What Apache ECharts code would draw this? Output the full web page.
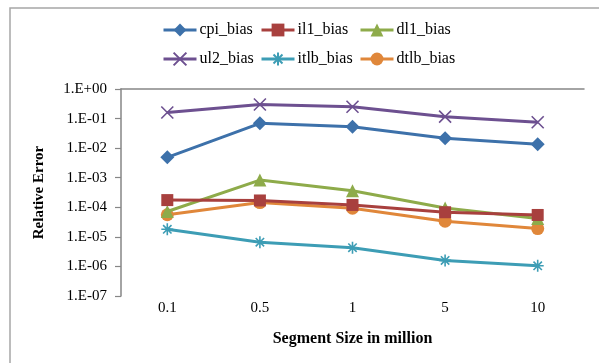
<!DOCTYPE html>
<html>
<head>
<meta charset="utf-8">
<script src="https://cdn.jsdelivr.net/npm/echarts@6/dist/echarts.min.js"></script>
<style>html,body{margin:0;padding:0;background:#fff}#c{width:599px;height:363px}</style>
</head>
<body>
<div id="c"></div>
<script>
const categories = ['0.1', '0.5', '1', '5', '10'];
const cpi_bias  = [0.0049, 0.069, 0.053, 0.0215, 0.0135];
const il1_bias  = [1.75e-4, 1.7e-4, 1.2e-4, 6.8e-5, 5.5e-5];
const dl1_bias  = [7.2e-5, 8.3e-4, 3.6e-4, 9.5e-5, 4.2e-5];
const ul2_bias  = [0.16, 0.30, 0.25, 0.116, 0.075];
const itlb_bias = [1.8e-5, 6.6e-6, 4.3e-6, 1.6e-6, 1.05e-6];
const dtlb_bias = [5.6e-5, 1.44e-4, 9.3e-5, 3.4e-5, 1.9e-5];
const seriesNames = ['cpi_bias', 'il1_bias', 'dl1_bias', 'ul2_bias', 'itlb_bias', 'dtlb_bias'];
const seriesData = [cpi_bias, il1_bias, dl1_bias, ul2_bias, itlb_bias, dtlb_bias];
const colors = ['#3D71AA', '#A8403E', '#8EAB4A', '#6D5090', '#3D9DB5', '#E0873A'];
const xPath = 'path://M0,0 L10,10 M10,0 L0,10';
const starPath = 'path://M5,0 L5,10 M0,5 L10,5 M1.5,1.5 L8.5,8.5 M8.5,1.5 L1.5,8.5';
const symbols = ['diamond', 'rect', 'triangle', xPath, starPath, 'circle'];
const symbolSizes = [14, 12, 13, 12, 12, 13];
const font = 'Liberation Serif';

const chart = echarts.init(document.getElementById('c'));
const series = seriesNames.map((n, i) => {
  const stroke = i === 3 || i === 4;
  return {
    name: n, type: 'line', data: seriesData[i],
    symbol: symbols[i], symbolSize: symbolSizes[i], showSymbol: true,
    lineStyle: { color: colors[i], width: 3 },
    itemStyle: stroke ? { color: colors[i], borderColor: colors[i], borderWidth: 1.6 } : { color: colors[i], borderWidth: 0 },
    emphasis: { disabled: true },
    animation: false, z: 10 - i
  };
});
const legendLefts = [162, 260, 359];
const legendTops = [22, 51];
const legends = seriesNames.map((n, i) => ({
  orient: 'horizontal', itemWidth: 33, itemHeight: 16, padding: 0,
  textStyle: { fontFamily: font, fontSize: 16, color: '#000', padding: [0, 0, 0, -2] },
  lineStyle: { width: 3 },
  left: legendLefts[i % 3], top: legendTops[Math.floor(i / 3)],
  data: [n], selectedMode: false
}));
chart.setOption({
  animation: false,
  color: colors,
  graphic: [{ type: 'rect', shape: { x: 10, y: 8, width: 800, height: 600 }, style: { fill: 'none', stroke: '#A6A6A6', lineWidth: 1.5 }, silent: true }],
  legend: legends,
  grid: { left: 121, top: 89, width: 463, height: 207 },
  xAxis: [{
    type: 'category', data: categories, position: 'bottom',
    axisLine: { show: false }, axisTick: { show: false },
    axisLabel: { fontFamily: font, fontSize: 15, color: '#000', margin: 5 },
    name: 'Segment Size in million', nameLocation: 'middle', nameGap: 35,
    nameTextStyle: { fontFamily: font, fontSize: 16, fontWeight: 'bold', color: '#000' }
  }, {
    type: 'category', data: categories, position: 'top',
    axisLine: { show: true, lineStyle: { color: '#868686', width: 1.5 } },
    axisTick: { show: false }, axisLabel: { show: false }
  }],
  yAxis: {
    type: 'log', logBase: 10, min: 1e-7, max: 1,
    axisLine: { show: true, lineStyle: { color: '#868686', width: 1.5 } },
    axisTick: { show: true, length: 6, lineStyle: { color: '#868686', width: 1.2 } },
    splitLine: { show: false },
    axisLabel: {
      fontFamily: font, fontSize: 15, color: '#000', margin: 14,
      formatter: v => { const e = Math.round(Math.log10(v)); return '1.E' + (e < 0 ? '-' : '+') + String(Math.abs(e)).padStart(2, '0'); }
    },
    name: 'Relative Error', nameLocation: 'middle', nameGap: 74, nameRotate: 90,
    nameTextStyle: { fontFamily: font, fontSize: 15, fontWeight: 'bold', color: '#000' }
  },
  series: series
});
</script>
</body>
</html>
